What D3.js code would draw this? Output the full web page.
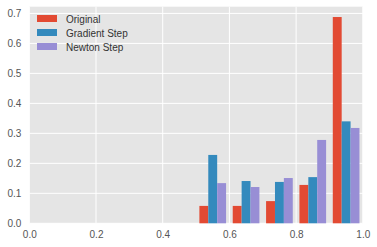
<!DOCTYPE html>
<html>
<head>
<meta charset="utf-8">
<script src="https://cdn.jsdelivr.net/npm/d3@7"></script>
<style>
  html, body { margin: 0; padding: 0; background: #fff; }
  svg { display: block; }
  text { font-family: "Liberation Sans", Arial, sans-serif; }
</style>
</head>
<body>
<svg id="chart" width="377" height="247"></svg>
<script>
const binEdges = [0.5, 0.6, 0.7, 0.8, 0.9, 1.0];
const seriesNames = ["Original", "Gradient Step", "Newton Step"];
const original = [0.058, 0.058, 0.074, 0.128, 0.688];
const gradient = [0.228, 0.141, 0.138, 0.154, 0.340];
const newton   = [0.134, 0.121, 0.151, 0.278, 0.318];
const colors = ["#E24A33", "#348ABD", "#988ED5"];
const xTicks = [0.0, 0.2, 0.4, 0.6, 0.8, 1.0];
const yTicks = [0.0, 0.1, 0.2, 0.3, 0.4, 0.5, 0.6, 0.7];

const series = [original, gradient, newton];
const margin = { left: 29.3, right: 377 - 362.8, top: 6.7, bottom: 247 - 223.3 };
const W = 377, H = 247;
const svg = d3.select("#chart");

const yMaxData = d3.max(series.flat());
const x = d3.scaleLinear().domain([0, 1]).range([margin.left, W - margin.right]);
const y = d3.scaleLinear().domain([0, yMaxData * 1.05]).range([H - margin.bottom, margin.top]);

// background
svg.append("rect")
  .attr("x", x(0)).attr("y", y.range()[1])
  .attr("width", x(1) - x(0)).attr("height", y.range()[0] - y.range()[1])
  .attr("fill", "#E5E5E5");

// grid
svg.append("g").selectAll("line").data(xTicks).join("line")
  .attr("x1", d => x(d)).attr("x2", d => x(d))
  .attr("y1", y.range()[0]).attr("y2", y.range()[1])
  .attr("stroke", "#fff").attr("stroke-width", 1);
svg.append("g").selectAll("line").data(yTicks).join("line")
  .attr("y1", d => y(d)).attr("y2", d => y(d))
  .attr("x1", x(0)).attr("x2", x(1))
  .attr("stroke", "#fff").attr("stroke-width", 1);

// bars
const nx = series.length;
const dr = 0.8;
series.forEach((vals, si) => {
  svg.append("g").selectAll("rect").data(vals).join("rect")
    .attr("x", (d, i) => {
      const bw = binEdges[i + 1] - binEdges[i];
      const w = dr * bw / nx;
      const start = binEdges[i] + bw / 2 - dr * bw / 2 + si * w;
      return x(start);
    })
    .attr("width", (d, i) => {
      const bw = binEdges[i + 1] - binEdges[i];
      return x(dr * bw / nx) - x(0);
    })
    .attr("y", d => y(d))
    .attr("height", d => y(0) - y(d))
    .attr("fill", colors[si]);
});

// axes
const xAxis = svg.append("g")
  .attr("transform", `translate(0,${y(0)})`)
  .call(d3.axisBottom(x).tickValues(xTicks).tickFormat(d3.format(".1f")).tickSize(0).tickPadding(8));
const yAxis = svg.append("g")
  .attr("transform", `translate(${x(0)},0)`)
  .call(d3.axisLeft(y).tickValues(yTicks).tickFormat(d3.format(".1f")).tickSize(0).tickPadding(8));
[xAxis, yAxis].forEach(g => {
  g.select(".domain").remove();
  g.selectAll("text").attr("fill", "#555555").style("font-size", "10px")
    .style("font-family", "'Liberation Sans', Arial, sans-serif");
});

// legend
const legend = svg.append("g");
seriesNames.forEach((name, i) => {
  const cy = 18.5 + i * 14;
  legend.append("rect").attr("x", 37).attr("y", cy - 3.5).attr("width", 20).attr("height", 7)
    .attr("fill", colors[i]);
  legend.append("text").attr("x", 66).attr("y", cy + 4.3)
    .attr("fill", "#333333").style("font-size", "10px").text(name);
});
</script>
</body>
</html>
